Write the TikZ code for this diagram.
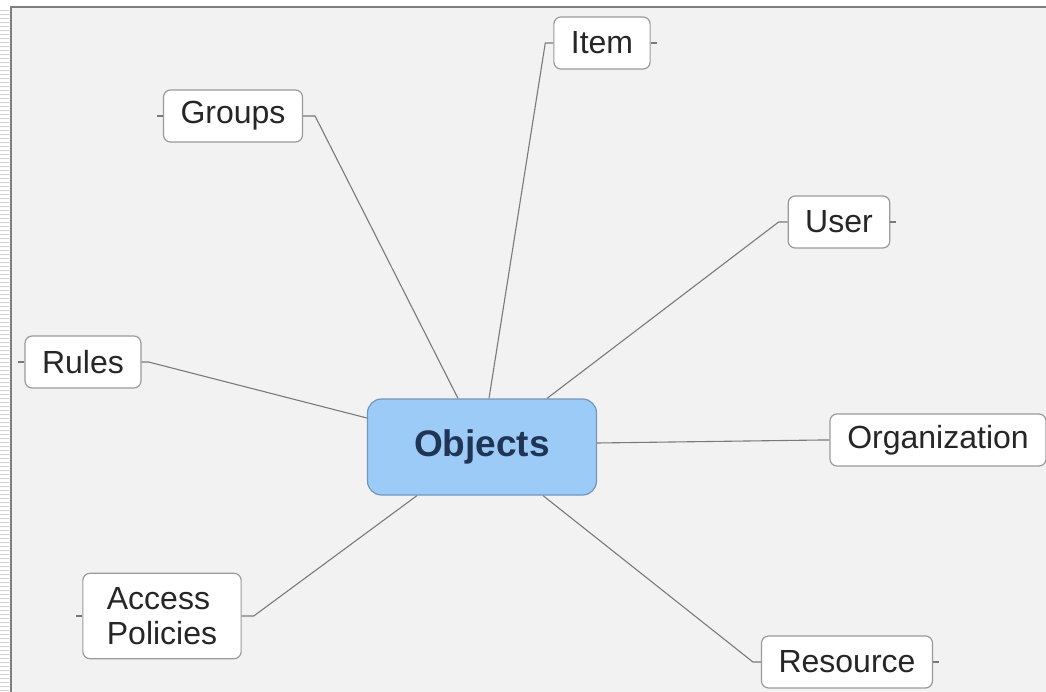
\documentclass[tikz,border=0pt]{standalone}
\usepackage{fontspec}
\setmainfont{Liberation Sans}
\definecolor{paper}{HTML}{F2F2F2}
\definecolor{frameline}{HTML}{7F7F7F}
\definecolor{boxline}{HTML}{9A9A9A}
\definecolor{linkline}{HTML}{7A7A7A}
\definecolor{hubfill}{HTML}{9DCBF8}
\definecolor{hubline}{HTML}{7396BC}
\definecolor{hubtext}{HTML}{1F3553}
\begin{document}
\begin{tikzpicture}[x=1pt, y=-1pt,
    topic/.style={draw=boxline, line width=1.2pt, fill=white, rounded corners=7pt,
        inner xsep=17pt, inner ysep=6pt, minimum height=52pt, text=black!85,
        font=\fontsize{32}{35}\selectfont},
    hub/.style={draw=hubline, line width=1.2pt, fill=hubfill, rounded corners=14pt,
        minimum width=229pt, minimum height=96pt, text=hubtext,
        font=\fontsize{37}{40}\selectfont\bfseries},
    link/.style={draw=linkline, line width=1.1pt}]
    \useasboundingbox (0,0) rectangle (1046,692);

    % The sheet
    \fill[white] (0,0) rectangle (1046,692);
    \fill[paper] (11,7) rectangle (1046,692);
    \draw[frameline, line width=1.5pt] (11,692) -- (11,7) -- (1046,7);
    \foreach \y in {10,14,...,690}
        \draw[gray!35, line width=0.8pt] (0,\y) -- (9,\y);

    % Central topic
    \node[hub] (obj) at (482,447) {Objects};

    % Subtopics
    \node[topic] (grp) at (233,116) {Groups};
    \node[topic] (itm) at (602,43) {Item};
    \node[topic] (usr) at (839,222) {User};
    \node[topic] (rul) at (83,362) {Rules};
    \node[topic, inner xsep=0pt, minimum width=216pt] (org) at (938,440) {Organization};
    \node[topic, align=left, inner xsep=24pt, inner ysep=14pt] (acc) at (162,616) {Access\\Policies};
    \node[topic] (res) at (847,662) {Resource};

    % Links from the centre
    \draw[link] ([xshift=-24pt]obj.north) -- ([xshift=12pt]grp.east) -- (grp.east);
    \draw[link] ([xshift=7pt]obj.north) -- ([xshift=-8pt]itm.west) -- (itm.west);
    \draw[link] ([xshift=65pt]obj.north) -- ([xshift=-9pt]usr.west) -- (usr.west);
    \draw[link] ([yshift=29pt]obj.west) -- ([xshift=7pt]rul.east) -- (rul.east);
    \draw[link] ([yshift=4pt]obj.east) -- ([xshift=-8pt]org.west) -- (org.west);
    \draw[link] ([xshift=-65pt]obj.south) -- ([xshift=12pt]acc.east) -- (acc.east);
    \draw[link] ([xshift=61pt]obj.south) -- ([xshift=-8pt]res.west) -- (res.west);

    % Collapse stubs
    \draw[link] (grp.west) -- ++(-6,0);
    \draw[link] (itm.east) -- ++(6,0);
    \draw[link] (usr.east) -- ++(6,0);
    \draw[link] (rul.west) -- ++(-6,0);
    \draw[link] (acc.west) -- ++(-6,0);
    \draw[link] (res.east) -- ++(6,0);
\end{tikzpicture}
\end{document}
